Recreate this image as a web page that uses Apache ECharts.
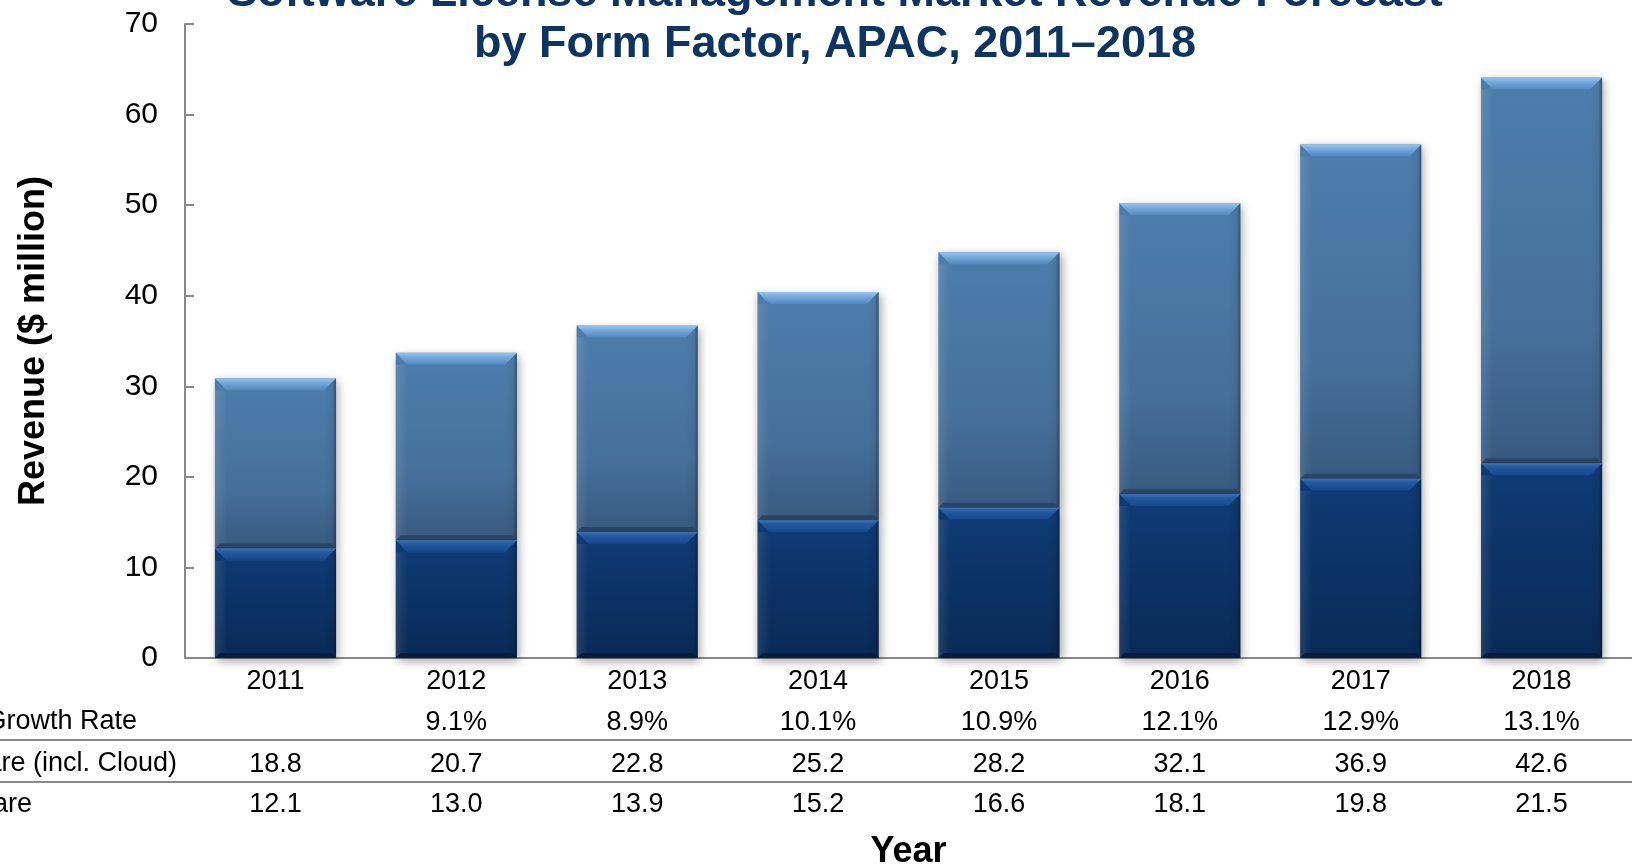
<!DOCTYPE html>
<html>
<head>
<meta charset="utf-8">
<title>Software License Management Market Revenue Forecast</title>
<script src="https://cdn.jsdelivr.net/npm/echarts@6/dist/echarts.min.js"></script>
<style>
  html, body { margin: 0; padding: 0; background: #ffffff; }
  #chart { width: 1632px; height: 864px; }
</style>
</head>
<body>
<div id="chart"></div>
<script>
// Revenue by form factor, APAC ($ million)
const years = ['2011', '2012', '2013', '2014', '2015', '2016', '2017', '2018'];
const software = [18.8, 20.7, 22.8, 25.2, 28.2, 32.1, 36.9, 42.6];   // incl. Cloud
const hardware = [12.1, 13.0, 13.9, 15.2, 16.6, 18.1, 19.8, 21.5];
const growthRate = [null, 9.1, 8.9, 10.1, 10.9, 12.1, 12.9, 13.1];    // %
const rowLabels = ['Growth Rate', 'Software (incl. Cloud)', 'Hardware'];
const yTicks = { min: 0, max: 70, interval: 10 };

const FONT = '"Liberation Sans", Arial, Helvetica, sans-serif';
const AXIS_GREY = '#8a8a8a';

const softwareStyle = {
  body: [[0, '#4e7dac'], [0.65, '#46709b'], [1, '#385a80']],
  bevel: [[0, '#95c5f2'], [0.35, '#79abdd'], [1, '#5387bc']],
  bottom: '#2b4766'
};
const hardwareStyle = {
  body: [[0, '#0f3b75'], [1, '#092a56']],
  bevel: [[0, '#3c72b6'], [0.3, '#2659a0'], [1, '#15478a']],
  bottom: '#061d3d'
};

function grad(x, y, x2, y2, stops) {
  return new echarts.graphic.LinearGradient(x, y, x2, y2,
    stops.map(s => ({ offset: s[0], color: s[1] })));
}

// Bevelled bar segment between two stacked values
function makeRenderer(style) {
  return function (params, api) {
    const i = api.value(0);
    const pBase = api.coord([i, api.value(1)]);
    const pTop = api.coord([i, api.value(2)]);
    const w = api.size([1, 0])[0] * 0.67;
    const x0 = pBase[0] - w / 2, x1 = pBase[0] + w / 2;
    const yb = pBase[1], yt = pTop[1];
    const h = yb - yt;
    const b = Math.min(12, h / 3);
    const bb = Math.min(5, h / 6);
    return {
      type: 'group',
      children: [
        {
          type: 'rect',
          shape: { x: x0, y: yt, width: w, height: h },
          style: {
            fill: grad(0, 0, 0, 1, style.body),
            shadowBlur: 9, shadowColor: 'rgba(0,0,0,0.38)',
            shadowOffsetX: 2, shadowOffsetY: 3
          }
        },
        {
          type: 'polygon',
          shape: { points: [[x0, yt + b], [x0 + b, yt + b], [x0 + b, yb - bb], [x0, yb]] },
          style: { fill: grad(0, 0, 1, 0, [[0, 'rgba(255,255,255,0.10)'], [1, 'rgba(255,255,255,0)']]) }
        },
        {
          type: 'polygon',
          shape: { points: [[x1, yt], [x1 - b, yt + b], [x1 - b, yb - bb], [x1, yb]] },
          style: { fill: grad(0, 0, 1, 0, [[0, 'rgba(0,0,0,0)'], [0.7, 'rgba(0,0,0,0.06)'], [1, 'rgba(0,0,0,0.35)']]) }
        },
        {
          type: 'polygon',
          shape: { points: [[x0, yb], [x1, yb], [x1 - bb, yb - bb], [x0 + bb, yb - bb]] },
          style: { fill: style.bottom }
        },
        {
          type: 'polygon',
          shape: { points: [[x0, yt], [x1, yt], [x1 - b, yt + b], [x0 + b, yt + b]] },
          style: { fill: grad(0, 0, 0, 1, style.bevel) }
        }
      ]
    };
  };
}

// Table rows under the x axis, aligned to the category centres
function tableAxis(values, offset) {
  return {
    type: 'category',
    data: years,
    gridIndex: 0,
    position: 'bottom',
    offset: offset,
    axisLine: { show: false },
    axisTick: { show: false },
    axisLabel: {
      margin: 11,
      fontFamily: FONT, fontSize: 27, color: '#000',
      formatter: (v, idx) => values[idx]
    }
  };
}

const chart = echarts.init(document.getElementById('chart'), null, { renderer: 'canvas' });

const tableLines = [740, 782].map(y => ({
  type: 'line',
  shape: { x1: 0, y1: y, x2: 1632, y2: y },
  style: { stroke: AXIS_GREY, lineWidth: 2 },
  silent: true
}));

const rowLabelY = [722, 764, 805];
const rowLabelRight = [137, 177, 32];
const rowTexts = rowLabels.map((t, k) => ({
  type: 'text',
  x: rowLabelRight[k],
  y: rowLabelY[k],
  style: {
    text: t, fontFamily: FONT, fontSize: 27, fill: '#000',
    align: 'right', verticalAlign: 'middle'
  }
}));

chart.setOption({
  backgroundColor: '#ffffff',
  animation: false,
  title: {
    text: 'Software License Management Market Revenue Forecast\nby Form Factor, APAC, 2011–2018',
    left: 830,
    top: -37,
    textAlign: 'center',
    textStyle: {
      fontFamily: FONT, fontSize: 45, fontWeight: 'bold',
      color: '#0e3461', lineHeight: 51
    }
  },
  grid: {
    left: 185, right: 0, top: 24, bottom: 206,
    containLabel: false,
    outerBoundsMode: 'none'
  },
  xAxis: [
    {
      type: 'category',
      data: years,
      position: 'bottom',
      axisLine: { show: true, lineStyle: { color: AXIS_GREY, width: 2 } },
      axisTick: { show: false },
      axisLabel: { margin: 10, fontFamily: FONT, fontSize: 27, color: '#000' },
      name: 'Year',
      nameLocation: 'middle',
      nameGap: 176,
      nameTextStyle: { fontFamily: FONT, fontSize: 36, fontWeight: 'bold', color: '#000' }
    },
    tableAxis(growthRate.map(v => v == null ? '' : v.toFixed(1) + '%'), 40),
    tableAxis(software.map(v => v.toFixed(1)), 82),
    tableAxis(hardware.map(v => v.toFixed(1)), 122)
  ],
  yAxis: {
    type: 'value',
    min: yTicks.min, max: yTicks.max, interval: yTicks.interval,
    axisLine: { show: true, lineStyle: { color: AXIS_GREY, width: 2 } },
    axisTick: { show: true, inside: true, length: 9, lineStyle: { color: AXIS_GREY, width: 2 } },
    splitLine: { show: false },
    axisLabel: { margin: 27, fontFamily: FONT, fontSize: 30, color: '#000' },
    name: 'Revenue ($ million)',
    nameLocation: 'middle',
    nameGap: 133,
    nameTextStyle: { fontFamily: FONT, fontSize: 36, fontWeight: 'bold', color: '#000' }
  },
  series: [
    {
      name: 'Software (incl. Cloud)',
      type: 'custom',
      renderItem: makeRenderer(softwareStyle),
      encode: { x: 0, y: [1, 2] },
      data: software.map((v, i) => [i, hardware[i], +(hardware[i] + v).toFixed(1)]),
      z: 2
    },
    {
      name: 'Hardware',
      type: 'custom',
      renderItem: makeRenderer(hardwareStyle),
      encode: { x: 0, y: [1, 2] },
      data: hardware.map((v, i) => [i, 0, v]),
      z: 3
    }
  ],
  graphic: tableLines.concat(rowTexts)
});
</script>
</body>
</html>
